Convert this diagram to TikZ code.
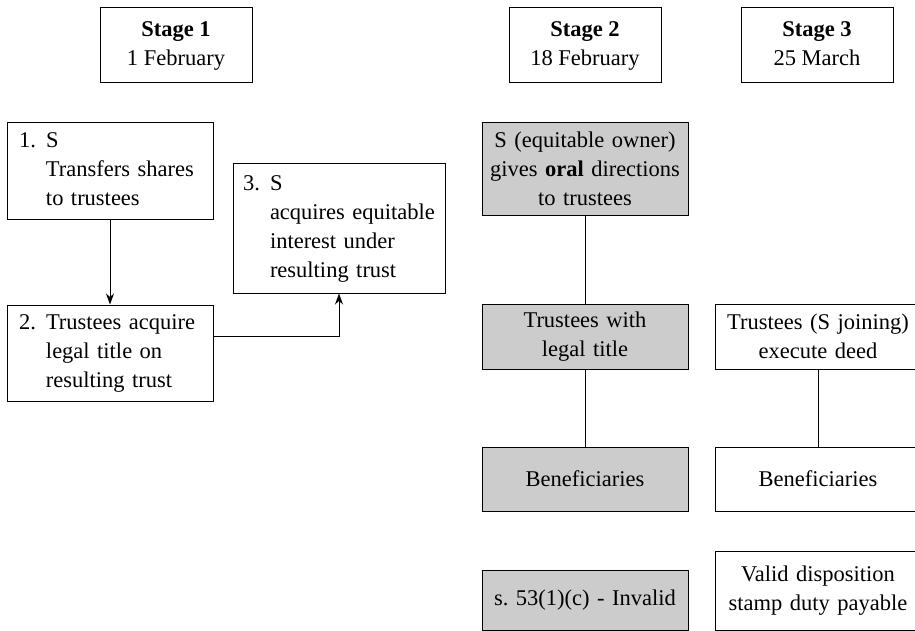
\documentclass[tikz,border=0pt]{standalone}
\usepackage{fontspec}
\setmainfont{Liberation Serif}
\usetikzlibrary{arrows.meta,positioning}
\begin{document}
\begin{tikzpicture}[x=1pt,y=-1pt,line width=1pt,node distance=26pt,
 every node/.style={font=\fontsize{22.5}{29}\selectfont},
 stage/.style={draw,minimum width=152pt,minimum height=75pt,align=center,inner sep=0pt},
 numbox/.style={draw,align=left,inner xsep=12pt,inner ysep=0pt,text width=182pt,minimum height=96pt},
 colbox/.style={draw,align=center,inner sep=0pt,text width=206pt,minimum height=#1},
 grey/.style={colbox=#1,fill=black!20}]
\useasboundingbox (0,0) rectangle (915,631);
\node[stage](st1) at (176,45){\textbf{Stage 1}\strut\\1 February\strut};
\node[stage](st2) at (585,45){\textbf{Stage 2}\strut\\18 February\strut};
\node[stage](st3) at (817,45){\textbf{Stage 3}\strut\\25 March\strut};
\node[numbox](b1) at (110,171){\begin{tabular}{@{}p{27pt}@{}l@{}}1.&S\\&Transfers shares\\&to trustees\end{tabular}};
\node[numbox,below=85pt of b1](b2){\begin{tabular}{@{}p{27pt}@{}l@{}}2.&Trustees acquire\\&legal title on\\&resulting trust\end{tabular}};
\node[numbox,text width=192pt,inner xsep=10pt,minimum height=129pt](b3) at (339,228.5){\begin{tabular}{@{}p{27pt}@{}l@{}}3.&S\\&acquires equitable\\&interest under\\&resulting trust\end{tabular}};
\node[grey=92pt](g1) at (585,169){S (equitable owner)\\gives \textbf{oral} directions\\to trustees};
\node[grey=65pt,below=88pt of g1](g2){Trustees with\\legal title};
\node[grey=64pt,below=77pt of g2](g3){Beneficiaries};
\node[grey=60pt,below=58pt of g3](g4){s.\ 53(1)(c) - Invalid};
\node[colbox=65pt,right=of g2](w2){Trustees (S joining)\\execute deed};
\node[colbox=64pt,right=of g3](w3){Beneficiaries};
\node[colbox=79pt,below=39pt of w3](w4){Valid disposition\\stamp duty payable};
\draw[-{Stealth[length=11pt,width=8pt]}](b1)--(b2);
\draw[-{Stealth[length=11pt,width=8pt]}]([yshift=17pt]b2.east)-|(b3.south);
\draw(g1)--(g2) (g2)--(g3) (w2)--(w3);
\end{tikzpicture}
\end{document}
